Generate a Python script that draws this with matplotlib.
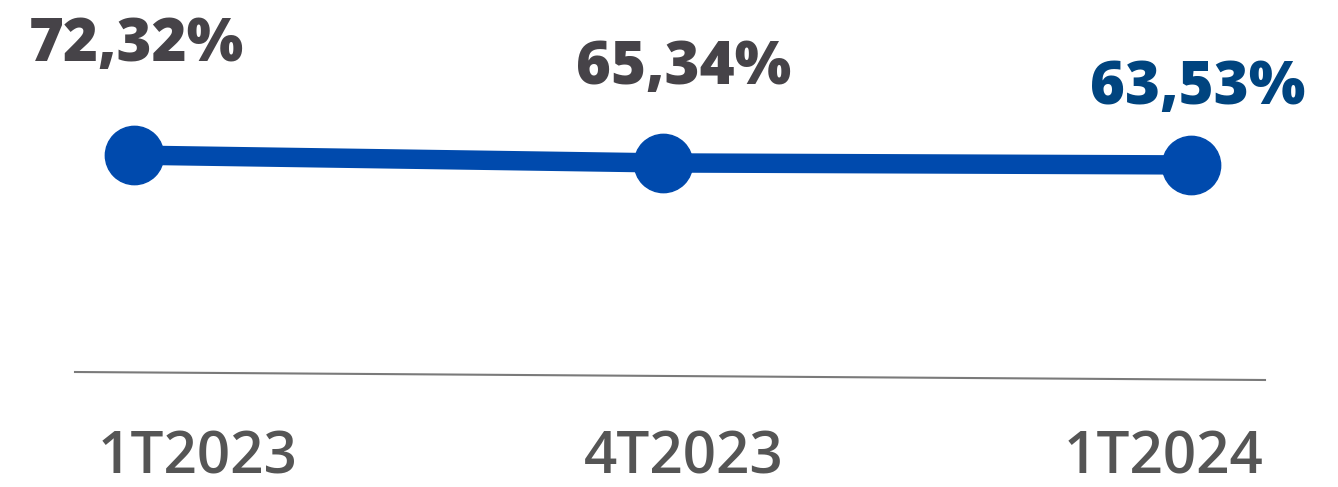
import matplotlib
matplotlib.use("Agg")
import matplotlib.pyplot as plt
import matplotlib.transforms as mtransforms

periods = ["1T2023", "4T2023", "1T2024"]
values = [72.32, 65.34, 63.53]
value_labels = ["72,32%", "65,34%", "63,53%"]

label_colors = ["#464348", "#464348", "#00447f"]
label_offsets = [(2, 110), (21, 95), (7, 77)]   # pixels from each point
tick_offsets = [64, 21, -28]                    # pixels from each point

fig = plt.figure(figsize=(13.38, 4.87), dpi=100)
ax = fig.add_axes([0, 0, 1, 1])
x = list(range(len(periods)))

ax.plot(x, values, color="#004aad", lw=14, marker="o", ms=42,
        solid_capstyle="round", zorder=3)

for xi, v, lab, col, off in zip(x, values, value_labels, label_colors, label_offsets):
    ax.annotate(lab, (xi, v), xytext=off, textcoords="offset pixels",
                ha="center", va="center", fontsize=43, fontweight="heavy",
                family="Open Sans", color=col)

# period labels under the baseline
trans = mtransforms.blended_transform_factory(ax.transData, fig.transFigure)
for xi, p, off in zip(x, periods, tick_offsets):
    ax.annotate(p, (xi, 1 - 473 / 487), xycoords=trans, xytext=(off, 0),
                textcoords="offset pixels", ha="center", va="baseline",
                fontsize=42, family="Open Sans", fontweight="semibold",
                color="#555555")

# slightly tilted baseline
ax.plot([75 / 1338, 1265 / 1338], [1 - 372 / 487, 1 - 380 / 487],
        transform=fig.transFigure, color="#7a7a7a", lw=1.5)

ax.set_xlim(-0.2535, 2.278)
ax.set_ylim(-224, 210.8)
ax.axis("off")

fig.savefig("out.png", dpi=100)
